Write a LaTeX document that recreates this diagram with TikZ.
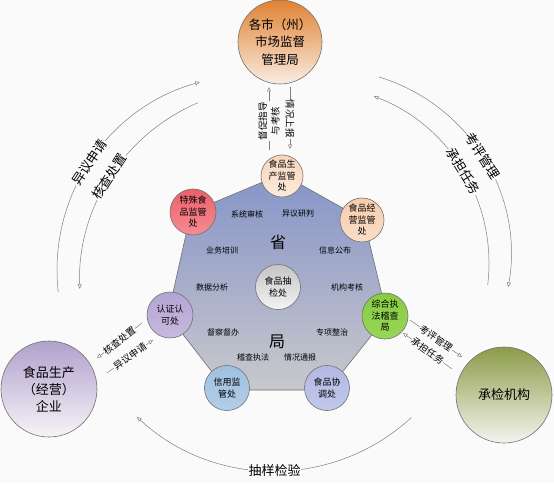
\documentclass[tikz,border=0pt]{standalone}
\usepackage{fontspec}
\newfontfamily\cjk{Noto Sans CJK SC}
\usetikzlibrary{arrows.meta,calc}
\definecolor{bg}{HTML}{FAFAFA}
\definecolor{ln}{HTML}{808080}
\definecolor{cb}{HTML}{707070}
\definecolor{hepT}{RGB}{134,148,200}
\definecolor{hepB}{RGB}{200,200,204}
\definecolor{orT}{RGB}{224,130,50}
\definecolor{orB}{RGB}{250,236,226}
\definecolor{scT}{RGB}{250,214,186}\definecolor{scB}{RGB}{251,234,220}
\definecolor{tsT}{RGB}{236,96,106}\definecolor{tsB}{RGB}{244,140,148}
\definecolor{jyT}{RGB}{247,204,170}\definecolor{jyB}{RGB}{250,222,200}
\definecolor{rzT}{RGB}{180,164,210}\definecolor{rzB}{RGB}{198,186,222}
\definecolor{zhT}{RGB}{134,204,64}\definecolor{zhB}{RGB}{152,214,88}
\definecolor{xyT}{RGB}{160,192,224}\definecolor{xyB}{RGB}{178,206,232}
\definecolor{xtT}{RGB}{178,184,226}\definecolor{xtB}{RGB}{194,200,234}
\definecolor{cjT}{RGB}{196,196,196}\definecolor{cjB}{RGB}{244,244,244}
\definecolor{qyT}{RGB}{176,160,204}\definecolor{qyB}{RGB}{246,244,248}
\definecolor{jgT}{RGB}{140,156,72}\definecolor{jgB}{RGB}{244,244,240}
\begin{document}
\begin{tikzpicture}[x=1pt,y=1pt,font=\cjk,
  circ/.style={circle,draw=cb,line width=0.6pt,inner sep=0pt,align=center},
  small/.style={circ,minimum size=#1,font=\cjk\fontsize{9}{11.5}\selectfont},
  big/.style={circ,minimum size=96pt,font=\cjk\fontsize{13}{17}\selectfont},
  inlab/.style={font=\cjk\fontsize{8}{10}\selectfont},
  arr/.style={draw=ln,line width=0.5pt,-{Triangle[open,length=4.5pt,width=4pt]}},
  arclab/.style={fill=bg,inner sep=0.5pt,font=\cjk\fontsize{13}{15}\selectfont},
  shortlab/.style={fill=bg,inner sep=0.5pt,font=\cjk\fontsize{9.5}{11}\selectfont},
  vlab/.style={fill=bg,inner sep=0.5pt,align=center,font=\cjk\fontsize{9.5}{12.5}\selectfont}]
\useasboundingbox (0,0) rectangle (554,483);
\fill[bg] (0,0) rectangle (554,483);
% heptagon
\path[draw=cb,line width=0.6pt,top color=hepT,bottom color=hepB]
  (282,309) -- (364,263) -- (387,167) -- (328,93) -- (226,93) -- (168,168) -- (191,271) -- cycle;
% inner labels
\node[font=\cjk\fontsize{16}{16}\selectfont] (sheng) at (278,241) {省};
\node[font=\cjk\fontsize{16}{16}\selectfont] (ju) at (277,141) {局};
\node[inlab] (l1) at (247,269) {系统审核};
\node[inlab] (l2) at (298,269) {异议研判};
\node[inlab] (l3) at (222,233) {业务培训};
\node[inlab] (l4) at (335,233) {信息公布};
\node[inlab] (l5) at (212,196) {数据分析};
\node[inlab] (l6) at (347,196) {机构考核};
\node[inlab] (l7) at (223,151) {督察督办};
\node[inlab] (l8) at (332,151) {专项整治};
\node[inlab] (l9) at (253,126) {稽查执法};
\node[inlab] (l10) at (300,126) {情况通报};
% circles
\node[circ,minimum size=84pt,top color=orT,bottom color=orB,font=\cjk\fontsize{12.5}{17.5}\selectfont] (top) at (280,441) {各市（州）\\市场监督\\管理局};
\node[small=42pt,top color=scT,bottom color=scB] (sc) at (282,307) {食品生\\产监管\\处};
\node[small=46pt,top color=tsT,bottom color=tsB] (ts) at (193,271) {特殊食\\品监管\\处};
\node[small=44pt,top color=jyT,bottom color=jyB] (jy) at (362,263) {食品经\\营监管\\处};
\node[small=46pt,top color=rzT,bottom color=rzB] (rz) at (170,168) {认证认\\可处};
\node[small=46pt,top color=zhT,bottom color=zhB] (zh) at (385,167) {综合执\\法稽查\\局};
\node[small=45pt,top color=xyT,bottom color=xyB] (xy) at (227,95) {信用监\\管处};
\node[small=45pt,top color=xtT,bottom color=xtB] (xt) at (327,95) {食品协\\调处};
\node[small=45pt,top color=cjT,bottom color=cjB] (cj) at (278,196) {食品抽\\检处};
\node[big,top color=qyT,bottom color=qyB] (qy) at (49,94) {食品生产\\（经营）\\企业};
\node[big,top color=jgT,bottom color=jgB] (jg) at (504,88) {承检机构};
% vertical arrows between top and sc
\coordinate (va1) at (269,333); \coordinate (va2) at (269,396);
\coordinate (vb1) at (290,396); \coordinate (vb2) at (290,334);
\draw[arr] (va1) -- (va2);
\node[vlab,rotate=90] (vla) at (269,362) {督促指导\\与考核};
\draw[arr] (vb1) -- (vb2);
\node[vlab,rotate=-90] (vlb) at (290,364) {情况上报};
% left arcs
\coordinate (lo1) at ($(252,213)+(186.5:195)$);
\draw[arr] (lo1) arc[start angle=186.5,end angle=105.5,radius=195];
\node[arclab,rotate=56.5] (lol) at ($(252,213)+(146.5:195)$) {异议申请};
\coordinate (li1) at ($(274.6,201)+(113.2:195)$);
\draw[arr] (li1) arc[start angle=113.2,end angle=182,radius=195];
\node[arclab,rotate=57.4] (lil) at ($(274.6,201)+(147.4:196)$) {核查处置};
% right arcs
\coordinate (ro1) at ($(325,228)+(73.1:186)$);
\draw[arr] (ro1) arc[start angle=73.1,end angle=-9.9,radius=186];
\node[arclab,rotate=-57.9] (rol) at ($(325,228)+(32.1:186)$) {考评管理};
\coordinate (ri1) at ($(310,219.5)+(-6.9:179)$);
\draw[arr] (ri1) arc[start angle=-6.9,end angle=69.1,radius=179];
\node[arclab,rotate=-59] (ril) at ($(310,219.5)+(31:179)$) {承担任务};
% bottom arc
\coordinate (bo1) at ($(274.5,214)+(-47.3:202)$);
\draw[arr] (bo1) arc[start angle=-47.3,end angle=-132.9,radius=202];
\node[arclab] (bol) at ($(274.5,214)+(-90:202)$) {抽样检验};
% short arrows left
\coordinate (s1a) at (142,160); \coordinate (s1b) at (97,125);
\draw[arr] (s1a) -- (s1b);
\node[shortlab,rotate=37.9] at ($(s1a)!0.5!(s1b)$) {核查处置};
\coordinate (s2a) at (107,110); \coordinate (s2b) at (153,143);
\draw[arr] (s2a) -- (s2b);
\node[shortlab,rotate=35.7] at ($(s2a)!0.5!(s2b)$) {异议申请};
% short arrows right
\coordinate (s3a) at (410,163); \coordinate (s3b) at (462,126);
\draw[arr] (s3a) -- (s3b);
\node[shortlab,rotate=-35.4] at ($(s3a)!0.5!(s3b)$) {考评管理};
\coordinate (s4a) at (452,114); \coordinate (s4b) at (403,150);
\draw[arr] (s4a) -- (s4b);
\node[shortlab,rotate=-36.3] at ($(s4a)!0.5!(s4b)$) {承担任务};
\end{tikzpicture}
\end{document}
